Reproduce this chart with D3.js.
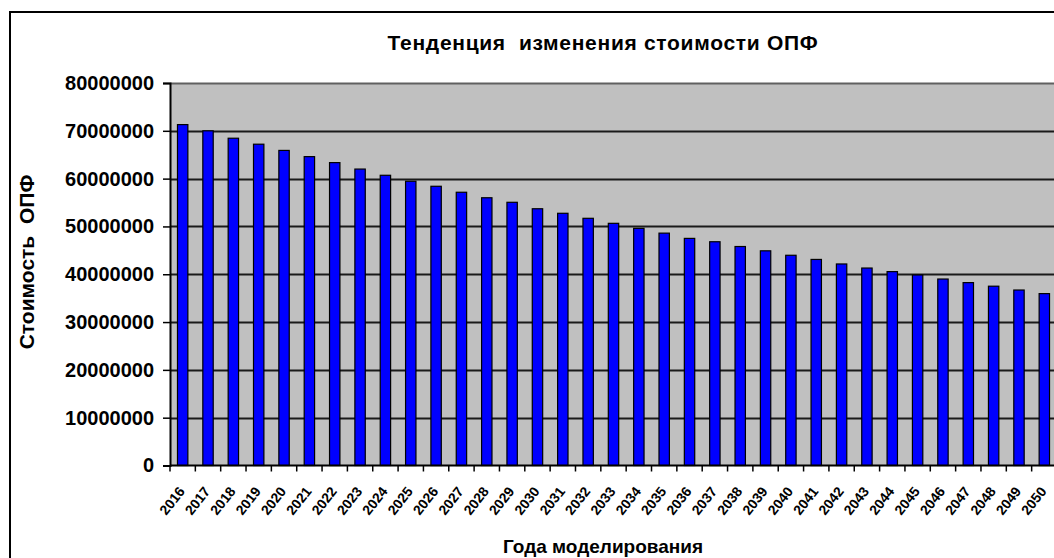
<!DOCTYPE html>
<html><head><meta charset="utf-8">
<script src="https://cdn.jsdelivr.net/npm/d3@7"></script>
<style>
html,body{margin:0;padding:0;background:#fff;overflow:hidden}
text{font-family:"Liberation Sans",Arial,sans-serif;font-weight:bold;fill:#000;white-space:pre}
</style></head>
<body>
<svg id="c" width="1054" height="558"></svg>
<script>
const years = ["2016","2017","2018","2019","2020","2021","2022","2023","2024","2025","2026","2027","2028","2029","2030","2031","2032","2033","2034","2035","2036","2037","2038","2039","2040","2041","2042","2043","2044","2045","2046","2047","2048","2049","2050"];
const values = [71300000,70000000,68450000,67200000,65900000,64600000,63350000,62000000,60700000,59450000,58400000,57150000,56000000,55050000,53700000,52750000,51700000,50650000,49600000,48600000,47500000,46800000,45800000,44900000,43970000,43100000,42150000,41300000,40550000,39850000,39000000,38250000,37500000,36700000,35950000];
const yTicks = [0,10000000,20000000,30000000,40000000,50000000,60000000,70000000,80000000];
const title = "Тенденция  изменения стоимости ОПФ";
const xTitle = "Года моделирования";
const yTitle = "Стоимость  ОПФ";

const svg = d3.select("#c");
const L = 170, R = 1057, T = 83, B = 465.5;

// outer frame
svg.append("rect").attr("x",10).attr("y",12).attr("width",1060).attr("height",560)
  .attr("fill","#fff").attr("stroke","#000").attr("stroke-width",2);

const x = d3.scaleBand().domain(years).range([L,R]).paddingInner(0.59).paddingOuter(0.295);
const xb = d3.scaleBand().domain(years).range([L,R]);
const y = d3.scaleLinear().domain([0,80000000]).range([B,T]);

svg.append("rect").attr("x",L).attr("y",T).attr("width",R-L).attr("height",B-T).attr("fill","#c0c0c0");

// gridlines
svg.append("g").selectAll("line").data(yTicks.filter(d=>d>0)).join("line")
  .attr("x1",L).attr("x2",R).attr("y1",d=>Math.round(y(d))+0.5).attr("y2",d=>Math.round(y(d))+0.5)
  .attr("stroke",d=>d===80000000?"#606060":"#1a1a1a").attr("stroke-width",2);

// bars
svg.append("g").selectAll("rect").data(values).join("rect")
  .attr("x",(d,i)=>x(years[i])).attr("width",x.bandwidth())
  .attr("y",d=>y(d)).attr("height",d=>B-y(d))
  .attr("fill","#0000ff").attr("stroke","#000").attr("stroke-width",1.2);

// y axis
const ya = d3.axisLeft(y).tickValues(yTicks).tickSize(7).tickPadding(9).tickFormat(d3.format("d"));
const gy = svg.append("g").attr("transform",`translate(${L},0)`).call(ya);
gy.select(".domain").attr("stroke","#000").attr("stroke-width",2);
gy.selectAll(".tick line").attr("stroke","#000").attr("stroke-width",1.5);
gy.selectAll(".tick text").style("font-size","20px").attr("fill","#000");

// x axis
const gx = svg.append("g").attr("transform",`translate(0,${B})`);
gx.append("line").attr("x1",L).attr("x2",R).attr("y1",0).attr("y2",0).attr("stroke","#000").attr("stroke-width",2);
gx.selectAll("line.t").data(years).join("line").attr("class","t")
  .attr("x1",d=>xb(d)).attr("x2",d=>xb(d)).attr("y1",0).attr("y2",6)
  .attr("stroke","#000").attr("stroke-width",1.5);
gx.selectAll("text").data(years).join("text")
  .attr("transform",d=>`translate(${xb(d)+xb.bandwidth()/2-1},${23}) rotate(-52)`)
  .attr("text-anchor","end").attr("dy","0.35em")
  .style("font-size","14px").text(d=>d);

// titles
svg.append("text").attr("x",603).attr("y",50).attr("text-anchor","middle")
  .style("font-size","21px").style("letter-spacing","0.7px").text(title);
svg.append("text").attr("x",603).attr("y",553).attr("text-anchor","middle").style("font-size","19px").text(xTitle);
svg.append("text").attr("transform","translate(34,262) rotate(-90)").attr("text-anchor","middle")
  .style("font-size","21px").text(yTitle);
</script>
</body></html>
